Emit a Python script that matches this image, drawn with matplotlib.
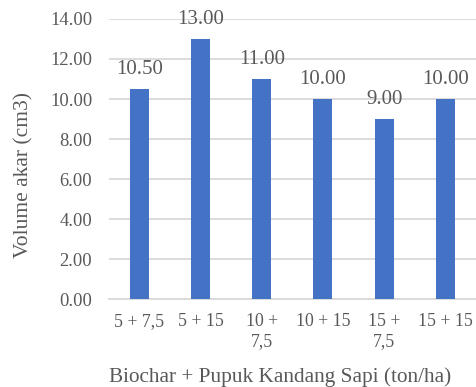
import matplotlib
matplotlib.use("Agg")
import matplotlib.pyplot as plt

plt.rcParams['font.family'] = ['Liberation Serif', 'DejaVu Serif']

perlakuan = ['5 + 7,5', '5 + 15', '10 +\n7,5', '10 + 15', '15 +\n7,5', '15 + 15']
volume = [10.50, 13.00, 11.00, 10.00, 9.00, 10.00]
yticks = [0, 2, 4, 6, 8, 10, 12, 14]

teks = '#595959'
garis = '#d9d9d9'

W, H = 477, 387
fig = plt.figure(figsize=(W / 100, H / 100), dpi=100)
ax = fig.add_axes([0.2285, 0.227, 0.769, 0.724])

x = list(range(len(perlakuan)))
bars = ax.bar(x, volume, width=0.31, color='#4472C4', zorder=3)

for b, v in zip(bars, volume):
    ax.annotate('%.2f' % v, (b.get_x() + b.get_width() / 2, v),
                xytext=(0, 7.5), textcoords='offset points',
                ha='center', va='bottom', fontsize=15, color=teks)

ax.set_xlim(-0.5, len(perlakuan) - 0.5)
ax.set_ylim(0, 14)
ax.set_yticks(yticks)
ax.set_yticklabels(['%.2f' % t for t in yticks], fontsize=13.3, color=teks)
ax.set_xticks(x)
ax.set_xticklabels(perlakuan, fontsize=12.8, color=teks, linespacing=1.2)
ax.yaxis.grid(True, color=garis, linewidth=1.3, zorder=0)
ax.tick_params(axis='both', length=0)
ax.tick_params(axis='x', pad=10)
ax.tick_params(axis='y', pad=12)

for s in ['top', 'right', 'left']:
    ax.spines[s].set_visible(False)
ax.spines['bottom'].set_color(garis)
ax.spines['bottom'].set_linewidth(1.3)

# judul sumbu diletakkan manual
fig.text(280 / W, 1 - 377 / H, 'Biochar + Pupuk Kandang Sapi (ton/ha)',
         ha='center', va='center', fontsize=15.3, color=teks)
fig.text(24 / W, 1 - 175 / H, 'Volume akar (cm3)', rotation=90,
         ha='center', va='center', fontsize=15.5, color=teks)

fig.savefig('out.png', dpi=100)
